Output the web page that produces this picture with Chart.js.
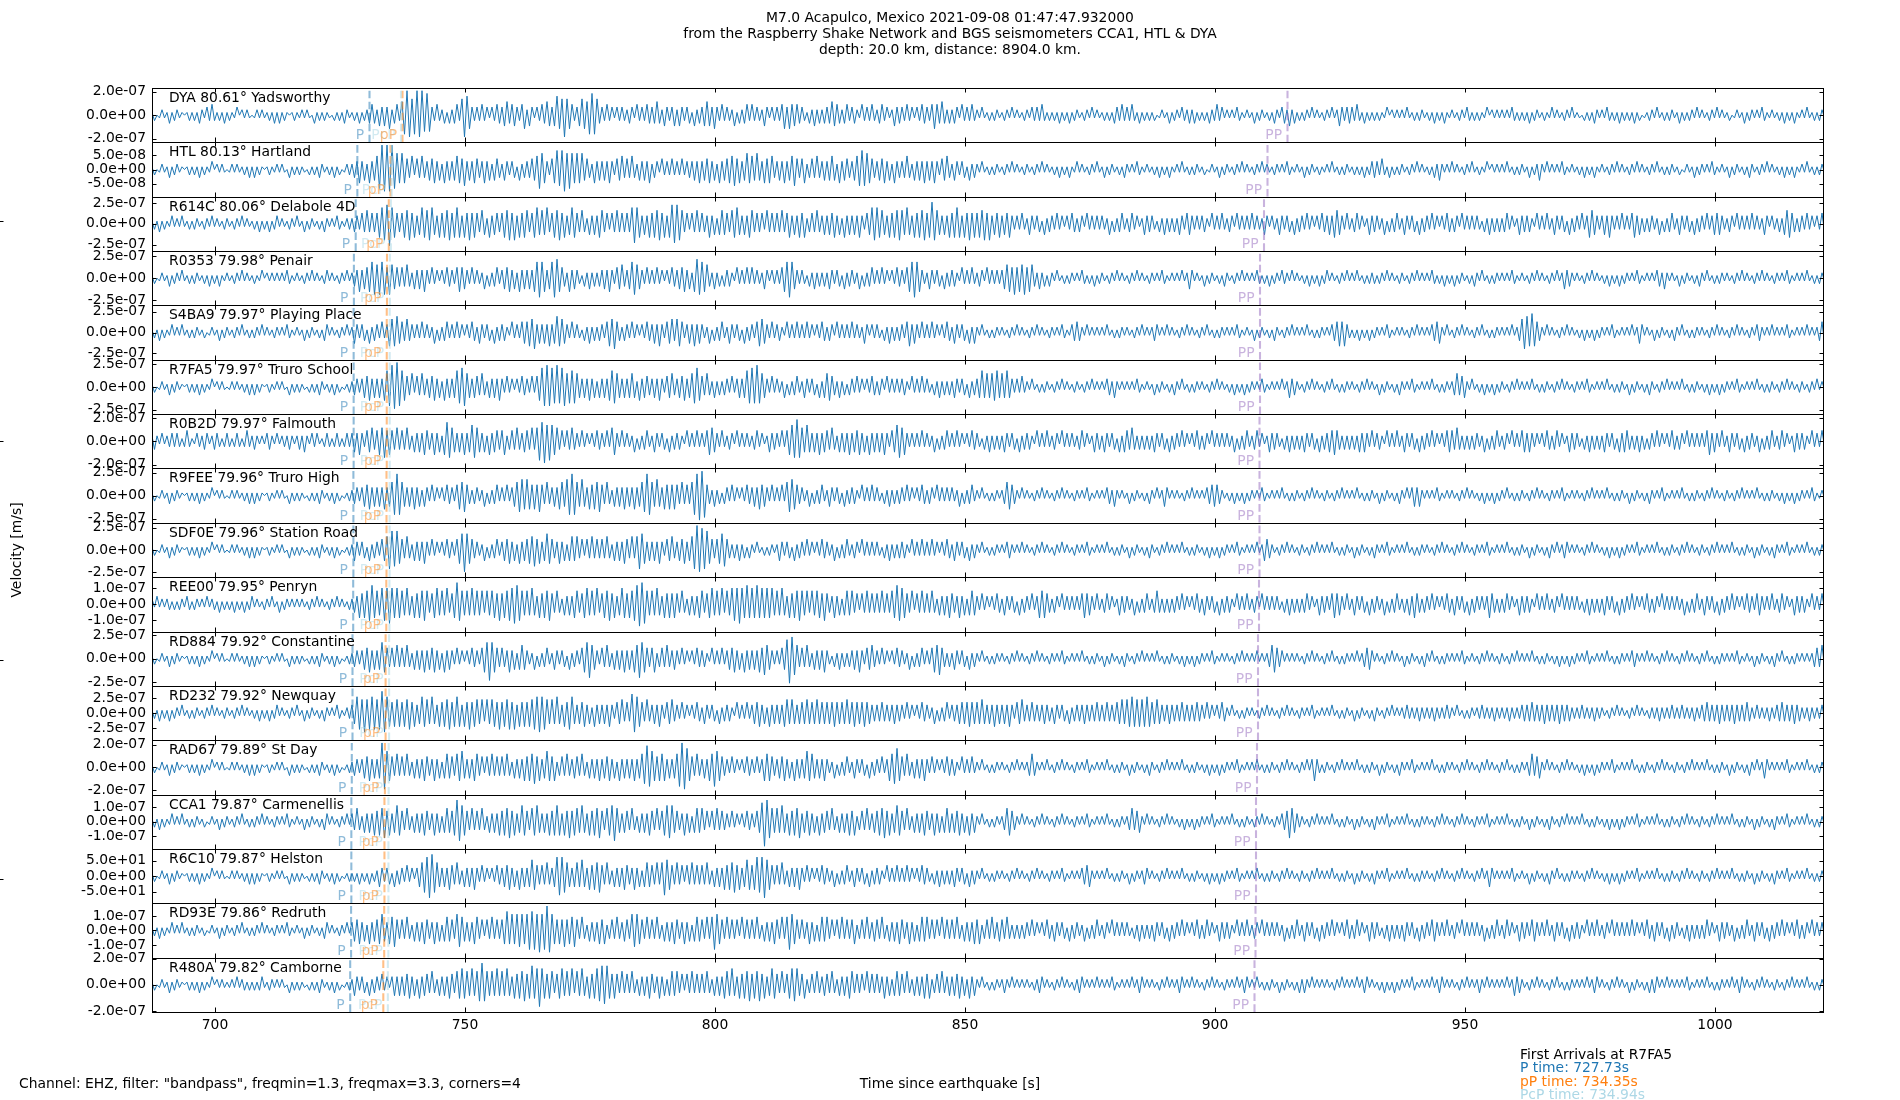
<!DOCTYPE html>
<html>
<head>
<meta charset="utf-8">
<title>M7.0 Acapulco - Cornwall seismometers</title>
<script src="https://cdn.jsdelivr.net/npm/chart.js@4.4.1/dist/chart.umd.min.js"></script>
<style>
  html, body { margin: 0; padding: 0; background: #fff; }
  #wrap { width: 1900px; height: 1100px; }
</style>
</head>
<body>
<div id="wrap"><canvas id="seis" width="1900" height="1100"></canvas></div>
<script>
// station list, top panel first
const stations = ['DYA', 'HTL', 'R614C', 'R0353', 'S4BA9', 'R7FA5', 'R0B2D', 'R9FEE', 'SDF0E',
                  'REE00', 'RD884', 'RD232', 'RAD67', 'CCA1', 'R6C10', 'RD93E', 'R480A'];
const places = ['Yadsworthy', 'Hartland', 'Delabole 4D', 'Penair', 'Playing Place', 'Truro School',
                'Falmouth', 'Truro High', 'Station Road', 'Penryn', 'Constantine', 'Newquay', 'St Day',
                'Carmenellis', 'Helston', 'Redruth', 'Camborne'];
const distances = [80.61, 80.13, 80.06, 79.98, 79.97, 79.97, 79.97, 79.96, 79.96,
                   79.95, 79.92, 79.92, 79.89, 79.87, 79.87, 79.86, 79.82];

// y axis: labelled tick (+/-) and panel half range
const tickAmp = [2.0e-7, 5.0e-8, 2.5e-7, 2.5e-7, 2.5e-7, 2.5e-7, 2.0e-7, 2.5e-7, 2.5e-7,
                 1.0e-7, 2.5e-7, 2.5e-7, 2.0e-7, 1.0e-7, 50, 1.0e-7, 2.0e-7];
const axisMax = [2.33e-7, 9.6e-8, 3.24e-7, 3.11e-7, 3.25e-7, 3.0e-7, 2.33e-7, 2.97e-7, 3.07e-7,
                 1.7e-7, 2.9e-7, 4.5e-7, 2.38e-7, 1.89e-7, 87.5, 1.87e-7, 2.08e-7];

// predicted arrivals [s]
const timeP   = [730.90, 728.47, 728.14, 727.78, 727.73, 727.73, 727.73, 727.68, 727.68,
                 727.64, 727.50, 727.50, 727.36, 727.27, 727.27, 727.22, 727.04];
const timePcP = [737.20, 735.34, 735.17, 734.97, 734.94, 734.94, 734.94, 734.92, 734.92,
                 734.89, 734.82, 734.82, 734.74, 734.69, 734.69, 734.67, 734.57];
const timepP  = [737.50, 735.09, 734.76, 734.40, 734.35, 734.35, 734.35, 734.30, 734.30,
                 734.26, 734.12, 734.12, 733.98, 733.89, 733.89, 733.84, 733.66];
const timePP  = [914.5, 910.5, 909.8, 909.0, 909.0, 909.0, 908.9, 908.9, 908.9,
                 908.8, 908.6, 908.6, 908.4, 908.2, 908.2, 908.1, 907.9];

const xTicks = [700, 750, 800, 850, 900, 950, 1000];
const xMin = 687.4, xMax = 1021.8;

// traces: one peak every 0.5 s from 687.4 s, each digit = peak size in tenths of the panel range,
// peaks alternate up / down
const sampleStart = 687.4, sampleStep = 0.5;
const traces = [
`1201211312 2110121213 2132421213 1211302121 0121211213 1312101211 2121031212 1102121321 1213122343 2434352342
 5798679896 8632422313 2342687532 3242313243 3453443245 2431324354 3475686542 3465578763 3242313232 2331423243
 3353243234 2432331423 3454353242 3224132342 4232243132 3245354443 3213242323 3354432342 3321423242 2342312433
 3242313243 3245435323 2331423242 2131121221 1221312112 2132324212 1213121312 2112213121 1212133242 3242131212
 1201211312 2132232312 1213224231 2121321121 1312211213 2133242312 1221312112 2131243233 3242131212 1211302121
 2131121221 1213121311 2112213212 1211302121 2121321212 1312211211 3121122131 1102121321 2132121312 1213120112
 2131121221 1312122131 2112213121 1201211312 2121321121 1213121311 2131121221`,
`1201211312 2110121213 1211302121 0121211213 1312101211 2121031212 1102121321 1213120122 2335342534 5798989765
 6543524353 3445342534 3455463435 4335342443 2432331423 3344576532 4576786765 6564432534 3435324453 4353243435
 2331423242 3242333435 3445342534 4556453465 5464354553 3435345643 4523435334 3454253443 3456766543 3445342533
 3353243435 3435324453 2432331423 2131121221 1221312112 2112213121 1213121311 3121122131 1312211213 2121321121
 1213121311 2131121221 1201211312 2112213121 1221312112 2121321121 1312211211 2131121221 1212131233 3242131212
 2112213121 1213242121 3121122131 1211302121 2131121221 1312242131 2121321121 1213121311 2112213121 1221312112
 2131121221 1201211312 2121321121 1312211213 2112213121 1213121311 2131121221`,
`1213121131 2131121221 1221312112 2112213121 1213121312 3121122131 1312211213 2121321122 2332435343 4566786543
 4556453465 5664354556 4565354645 4354253443 4556463545 5345645463 4556453465 4353243435 5342435343 4367653435
 4556453577 7653424353 4335342454 4355643435 5343425343 4353453435 4523435334 3445342534 3435324466 6554354556
 5464354556 4586543435 4565354645 4556463445 3445323242 2432331423 3242313243 2331423232 3224132342 2342312433
 3213242323 2432443232 3321423242 2331423232 4232243132 2432331423 3242313243 3435543242 2342312433 3224132342
 2432331423 3242313243 2331423232 3213242323 2342312433 3321423242 2432331423 3242355432 3435323242 3245342323
 3224132342 2432331423 3242344432 2331423232 4232243132 2324554323 3242313243`,
`1201211312 2131121221 1213121311 2112213121 1211302121 2121321121 1221312112 3121122131 2335344566 5666465443
 4353243435 3242313243 3245443242 3224132342 3445342534 3435676534 6775432534 3213242323 3435324453 3466543242
 3242313243 3445342576 6553242313 3321423242 4232243132 3245676432 3213242323 2432331423 3224132342 3242313243
 3245676532 2432331423 3321423242 2331423232 3455464556 4553242313 2131121221 2132121312 2112213121 1221312112
 2121321121 2131243121 1312211213 2112213121 2132121312 2132213121 1213121312 3121122131 2131121222 1221312112
 2112213121 2132121312 1312211213 2131121221 2121321121 1221312112 2131243321 2112213121 1213121312 2121321121
 2133242121 1312211213 2131121221 2112213121 1221312112 2121321121 2131121221`,
`1213121131 2131121221 1201211312 2112213112 1221312112 2121321121 1312211213 3121122131 2432331423 3242355564
 4353323242 3224132342 3242313243 2432331423 3321423244 4556343435 3465543242 3213242323 3245564323 3242313243
 3435324453 5542343534 3224132342 2432331423 3245543242 3321423242 3242313243 2331423232 4232243132 3213242323
 3245343242 3242313243 2432331424 2131121221 2112213121 1221312112 2121321133 4321312121 2131121221 2112213121
 2331213121 1221312112 2131121221 2121321121 1312211213 2112213121 2131121221 2133454532 1213121312 2121321121
 2112213121 2133442131 1221312112 2131121221 2121312356 6575432131 2112213121 1213121312 2121321121 2131243121
 1312211213 2131121221 2112213121 1221312112 2133212131 2121321121 2131212344`,
`1201211312 2110121213 1211302121 0121211213 1312101211 2121031212 1102121321 1213120112 2332344534 3435678897
 6543524353 3445342534 3466775434 4353243435 3242313243 3242457787 7686775666 5434353424 3435665434 3454253443
 3435324453 3445345675 4353242323 3242343466 7686543242 3224132342 2432331424 5543242313 3242313243 2331423232
 3321423242 3213242323 2432331423 3464545564 5464323242 2131121221 1221312112 2112213121 2133242121 2121321121
 1312211213 2131121221 2112213121 1213121312 2121321121 2131243321 1221312112 2131121221 2112213121 1312211213
 2121321121 2131121221 2353442131 1213121312 2112213121 2131121221 1221312112 2121321121 2131121221 1312211213
 2112213121 2131121221 1213121312 2121321121 2131121221 1221312112 2112213121`,
`2321312232 3212421132 2331233212 3212321242 2321213321 3122232123 2421323112 3212321232 3435324453 4556454353
 4353243435 4335342576 5434353466 5434253443 4523435334 4353577867 6553424353 3242313243 3242553242 3224132342
 2432331423 3321423242 3245543242 2331423232 2342312433 3242456686 5464343534 4353243435 3445342534 3435324466
 5532323242 3224132342 3242313243 3213242323 2432331423 3321423242 2331423232 2342312433 2432331424 4353232323
 2432331423 3242313243 2331423232 3224132342 2342312433 3213242323 2432331423 3445432323 2324343242 3321423242
 2432331423 3242313244 4353232323 3224132342 2331423244 3432313243 2342312433 3213242323 2432331434 4323242313
 3242313243 2331423232 3245343242 2432331423 3224132342 2342312433 3321423242`,
`1201211312 2110121213 1211302121 0121211213 1312101211 2121031212 1102121321 1213120112 2332344534 3435345787
 5434353424 3242313243 3245564323 3224132342 3242345665 6545464353 3435546787 5464354556 4353243435 3435345687
 5464354545 4353435789 9843242313 3242313243 3435443242 3242566543 3224132342 2432331423 3321423242 3213242323
 3242313243 2331423232 3224132342 2131121221 2355432131 2112213121 1221312112 2121321121 2133242121 1312211213
 2131243121 2112213121 2133444321 1213121312 2121321121 2131121221 1221312112 2112213121 2131121221 1312211213
 2131343421 2121321121 2112213121 1213121312 2131121221 1221312112 2121321121 2112213121 2131121221 1312211213
 2121321121 2131121221 1221312112 2112213121 2131121221 1213121312 2121321121`,
`1201211312 2110121213 1211302121 0121211213 1312101211 2121031212 1102121321 1213120112 2432331423 3244577675
 4353243435 3242313243 3245686543 3224132342 3445342534 4556453465 4335342454 5342435343 4353243435 4353576534
 3435324453 3445345798 8775434566 4323242313 2131121221 2432331423 3242313243 3224132342 2331423232 3213242323
 3321423242 3242313243 2432331423 2131121221 2133212131 2112213121 1221312112 2121321121 2131121221 1312211213
 2112213121 2131121221 1213121312 2121321121 2131244321 1221312112 2112213121 2131121221 1312211213 2121321121
 2131121221 2112213121 1221312112 2121321121 2131121221 1312211213 2131233121 2112213121 1213121312 2121321121
 2131121221 1221312112 2112213121 2131121221 1312211213 2121321121 2131121221`,
`2131212212 1221321221 2131221312 1213121312 3121122131 1312212121 2112213121 1221312112 2335455675 5466676565
 5464354556 5345645463 4586545464 5453545546 4556677654 5464354556 4353243435 5345645463 4556453465 4556788754
 5464354545 4353243435 5345645463 5466676575 6575656564 5464354556 5453545546 4335342454 5342435343 4353435576
 6543524353 4353243435 4335342454 3242313243 2432331423 3242355543 2331423232 3245443242 2342312433 3224132342
 2353232323 3242313243 2432331423 3321423242 2331423232 3213242323 2342312433 3245443242 2432331423 3224132342
 2324354323 3242313243 2432331423 3232354323 2342312433 3321423242 2331423232 3213242323 2432331423 3242313243
 2331423232 3224132342 2432331423 3242313243 3244323242 2342312433 3321423242`,
`1201211312 2110121213 1211302121 0121211213 1312101211 2121031212 1102121321 1213120112 2332344534 3465434353
 4353243435 3445342534 3242313243 3245686543 4335342454 3224132342 2432331423 3245675432 4353243435 3435576543
 4523435334 3242313243 3321423242 3445342534 3435465432 3244798653 4353243435 3213242323 3435324453 3242313243
 3224132342 3245564323 2432331423 2131121221 2112213121 1221312112 2121321121 2131121221 1312211213 2112213121
 2131121221 1213121312 2121321121 2112213121 2131212355 4331212121 1221312112 2131121221 2131234431 2112213121
 1312211213 2131121221 2121321121 1221312112 2112213121 2131121221 1213121312 2121321121 2131121221 2133212131
 2112213121 1221312112 2131121221 2121321121 1312211213 2131121221 2121234353`,
`1213121312 2131121221 1221312112 2112213121 1213121312 3121122131 1312211213 2121321122 3466575666 5687654555
 4556453465 5464354556 4565354645 5453545546 4556463545 4556676654 5464354664 3445342534 3435324453 4377654353
 3435324453 3242313243 2432331423 3321423242 3445342534 3435545434 4454445444 4445444454 4544454433 3343333433
 3242313243 3224132342 3334444544 4454343534 3435324453 3343333433 2432331423 3334333343 3343334454 5565555565
 4454333433 3343333343 3242313243 2131121221 2112213121 1221312112 2121321121 2131121221 1312211213 2112213121
 2232222322 2223222232 2131121221 2232222322 2223222233 3343333433 3334333322 2232222322 2112213121 1221312112
 2223222232 2232222322 3343333433 3334333343 2232222322 3343333433 2223222232`,
`1201211312 2110121213 1211302121 0121211213 1312101211 2121031212 1102121321 1213120112 2332344534 3498654353
 4353243435 4335342454 4355643435 5342435343 4353243435 4556453465 4523435334 4353243435 3445342534 3435345687
 6545553434 5798754353 3435576543 3242313243 3242355543 3445342534 3465543435 3224132342 2432331423 3242355675
 4353243435 3242313243 3321423242 2131121221 2112213121 2353212131 1221312112 2121321121 2131121221 1312211213
 2112213121 2131121221 1213121312 2121321121 2131121221 1221312112 2131353212 2112213121 2131121221 1312211213
 2121321121 2131121221 2112213121 1221312112 2131121221 2353442131 2112213121 1213121312 2121321121 2131121221
 1221312112 2112213121 2131121221 1312211213 2131243121 2121321121 2131121221`,
`1213121131 2131121221 1201211312 2112213112 1221312112 2121321121 1312211213 3121122131 3353243435 4556453465
 4353243435 4335342454 4587654353 4353243435 4556453465 4355643435 4565354645 5464354556 4355675434 4353243435
 4353456664 4335342454 5342435343 3242313243 3244798654 5464354556 3445342534 4353243435 4523435334 4556453465
 4353243435 4335342454 3445342534 2131121221 2355432131 2112213121 1221312112 2121321121 2131121221 2353442131
 2112213121 1213121312 2121321121 2131121221 1221312112 2133465432 2112213121 2131121221 1312211213 2121321121
 2131121221 2112213121 1221312112 2121321121 2131121221 1312211213 2112213121 2131121221 1213121312 2121321121
 2131121221 1221312112 2112213121 2131121221 1312211213 2121321121 2131121221`,
`1201211312 2110121213 1211302121 0121211213 1312101211 2121031212 1102121321 1213120112 1213121312 2432331423
 3242313456 7886543435 4353243435 3242313243 3445342534 3465434353 3477765434 5464354556 4353243435 4335342454
 4353576543 5342435343 4353243435 4556453465 4576786543 4353243435 3242313243 3224132342 2432331423 3321423242
 3242313243 3213242323 2432331423 2131121221 2112213121 1221312112 2121321121 2133442121 2131121221 1312212331
 2112213121 2131121221 1213121312 2121321121 2131121221 1221312112 2112213121 2131121221 1312211213 2121321121
 2131121221 2112213121 1221312112 2131243121 2121321121 1312211213 2131121221 2112213121 1213121312 2121321121
 2131121221 1221312112 2112213121 2131121221 1312211213 2121321121 2131121221`,
`1213121131 2131121221 1201211312 2112213112 1221312112 2121321121 1312211213 3121122131 3445342534 4564355643
 4353243435 4335342454 4366543435 5342435343 4575656665 6777686798 6545464556 4353243435 4523435334 4366654353
 4353243435 4335342454 4353576543 5343425343 4353243435 4353576543 4335342454 5342435343 4523435334 4353243435
 4335342454 5343425343 4353243435 4523435334 4353232323 3242313243 2432331423 3224132342 2331423232 3213242323
 2432331423 3242313243 2342312433 3321423242 2331423232 3224132342 2432331423 3242313243 2342312433 3213242323
 2432331423 3244323242 2331423232 3224132342 2342312433 3244323242 2432331423 3321423242 2331423232 3242313243
 2432331423 3213242323 2342312433 3224132342 2432331423 3242313243 2331423232`,
`1201211312 2110121213 1211302121 1121312212 1212311221 2121031212 1102121321 1213120112 2432331423 3242313434
 3445342534 4353243435 4355655464 5686545464 5464354556 4575686545 5345645463 5464354566 7775454353 4353243435
 4335342454 5342435343 4353243435 5464354556 4556453465 4353456664 4523435334 4353243435 5343425343 4335342454
 4353243435 4523435334 3445342534 2131121221 2321312121 2112233121 1221312112 2331212131 2121321121 2131233121
 2112213121 2331213121 1221312112 2121312331 2131121221 1312211213 2321312121 2112213121 2131233121 1213121312
 2121321121 2131233121 2112213121 2321312121 2131243321 1221312112 2131121221 2121312331 2112213121 1312211213
 2331213121 2121321121 2131121221 2131233121 1221312112 2112213121 2131121221`
];

const titleLines = ['M7.0 Acapulco, Mexico 2021-09-08 01:47:47.932000',
                    'from the Raspberry Shake Network and BGS seismometers CCA1, HTL & DYA',
                    'depth: 20.0 km, distance: 8904.0 km.'];
const channelNote = 'Channel: EHZ, filter: "bandpass", freqmin=1.3, freqmax=3.3, corners=4';
const xLabel = 'Time since earthquake [s]';
const yLabel = 'Velocity [m/s]';
const refStation = 'R7FA5';

const FONT = '"DejaVu Sans", "Liberation Sans", sans-serif';
const TXT = '13.89px ' + FONT;

const phases = [
  { name: 'P',   times: timeP,   color: 'rgba(31,119,180,0.5)' },
  { name: 'PcP', times: timePcP, color: 'rgba(173,216,230,0.55)' },
  { name: 'pP',  times: timepP,  color: 'rgba(255,127,14,0.5)' },
  { name: 'PP',  times: timePP,  color: 'rgba(148,103,189,0.5)' }
];

function sci(v) {
  const parts = Number(v).toExponential(1).split('e');
  const n = Number(parts[1]);
  return parts[0] + 'e' + (n < 0 ? '-' : '+') + String(Math.abs(n)).padStart(2, '0');
}

const datasets = [];
const scales = {
  x: {
    type: 'linear', position: 'bottom', min: xMin, max: xMax,
    afterBuildTicks: s => { s.ticks = xTicks.map(v => ({ value: v })); },
    afterFit: s => { s.height = 88; },
    grid: { display: false, drawTicks: false },
    border: { display: false },
    ticks: { autoSkip: false, maxRotation: 0, padding: 5, color: '#000',
             font: { family: FONT, size: 13.89 }, callback: v => String(v) }
  }
};

stations.forEach((code, i) => {
  const id = 'y' + i;
  const amps = traces[i].replace(/\s+/g, '');
  const pts = [];
  for (let k = 0; k < amps.length; k++) {
    const sign = k % 2 === 0 ? 1 : -1;
    pts.push({ x: sampleStart + k * sampleStep, y: sign * Number(amps[k]) / 10 * axisMax[i] });
  }
  datasets.push({ data: pts, yAxisID: id, borderColor: '#1f77b4', borderWidth: 1,
                  pointRadius: 0, order: 2 });
  phases.forEach(ph => {
    datasets.push({
      data: [{ x: ph.times[i], y: -axisMax[i] }, { x: ph.times[i], y: axisMax[i] }],
      yAxisID: id, borderColor: ph.color, borderWidth: 2.08, borderDash: [7.7, 3.3],
      pointRadius: 0, order: 1
    });
  });
  scales[id] = {
    type: 'linear', position: 'left', stack: 'panels', stackWeight: 1,
    weight: stations.length - i,
    min: -axisMax[i], max: axisMax[i],
    afterBuildTicks: s => { s.ticks = [{ value: -tickAmp[i] }, { value: 0 }, { value: tickAmp[i] }]; },
    afterFit: s => { s.width = 152; },
    grid: { display: false, drawTicks: false },
    border: { display: false },
    ticks: { autoSkip: false, padding: 6, color: '#000',
             font: { family: FONT, size: 13.89 }, callback: v => sci(v) }
  };
});

const decor = {
  id: 'decor',
  afterDatasetsDraw(chart) {
    const ctx = chart.ctx;
    const area = chart.chartArea;
    const xs = chart.scales.x;
    ctx.save();
    ctx.font = TXT;
    stations.forEach((code, i) => {
      const ys = chart.scales['y' + i];
      const top = Math.round(ys.top), bottom = Math.round(ys.bottom);
      // phase names, left of their lines
      ctx.textAlign = 'right';
      ctx.textBaseline = 'alphabetic';
      phases.forEach(ph => {
        ctx.fillStyle = ph.color;
        ctx.fillText(ph.name, xs.getPixelForValue(ph.times[i]) - 5.5, bottom - 3);
      });
      // station name
      ctx.fillStyle = '#000';
      ctx.textAlign = 'left';
      ctx.textBaseline = 'top';
      ctx.fillText(code + ' ' + distances[i].toFixed(2) + '\u00b0 ' + places[i], area.left + 17, top + 3);
      // frame and inward ticks
      ctx.strokeStyle = '#000';
      ctx.lineWidth = 1;
      ctx.beginPath();
      xTicks.forEach(v => {
        const px = Math.round(xs.getPixelForValue(v)) + 0.5;
        ctx.moveTo(px, top); ctx.lineTo(px, top + 4.5);
        ctx.moveTo(px, bottom); ctx.lineTo(px, bottom - 4.5);
      });
      [-tickAmp[i], 0, tickAmp[i]].forEach(v => {
        const py = Math.round(ys.getPixelForValue(v)) + 0.5;
        ctx.moveTo(area.left, py); ctx.lineTo(area.left + 4.5, py);
        ctx.moveTo(area.right, py); ctx.lineTo(area.right - 4.5, py);
      });
      ctx.stroke();
      ctx.strokeRect(Math.round(area.left) + 0.5, top + 0.5, Math.round(area.right - area.left) - 1, bottom - top);
    });
    ctx.restore();
  },
  afterDraw(chart) {
    const ctx = chart.ctx;
    ctx.save();
    ctx.font = TXT;
    ctx.fillStyle = '#000';
    ctx.textBaseline = 'middle';
    ctx.textAlign = 'center';
    titleLines.forEach((s, j) => ctx.fillText(s, 950, 18.5 + j * 16));
    ctx.fillText(xLabel, 950, 1084);
    ctx.textAlign = 'left';
    ctx.fillText(channelNote, 19, 1084);
    const r = stations.indexOf(refStation);
    const block = [
      ['First Arrivals at ' + refStation, '#000000'],
      ['P time: ' + timeP[r].toFixed(2) + 's', '#1f77b4'],
      ['pP time: ' + timepP[r].toFixed(2) + 's', '#ff7f0e'],
      ['PcP time: ' + timePcP[r].toFixed(2) + 's', '#add8e6']
    ];
    block.forEach((b, j) => { ctx.fillStyle = b[1]; ctx.fillText(b[0], 1520, 1055 + j * 13.6); });
    ctx.save();
    ctx.translate(17, 550);
    ctx.rotate(-Math.PI / 2);
    ctx.textAlign = 'center';
    ctx.fillStyle = '#000';
    ctx.fillText(yLabel, 0, 0);
    ctx.restore();
    ctx.strokeStyle = '#000';
    ctx.lineWidth = 1;
    ctx.beginPath();
    [221, 441, 660, 879].forEach(y => { ctx.moveTo(0, y + 0.5); ctx.lineTo(3.5, y + 0.5); });
    ctx.stroke();
    ctx.restore();
  }
};

new Chart(document.getElementById('seis'), {
  type: 'line',
  data: { datasets },
  options: {
    responsive: false,
    animation: false,
    devicePixelRatio: 1,
    events: [],
    layout: { padding: { left: 0, right: 76, top: 88, bottom: 0 } },
    plugins: { legend: { display: false }, tooltip: { enabled: false }, title: { display: false } },
    elements: { line: { tension: 0 }, point: { radius: 0 } },
    scales
  },
  plugins: [decor]
});
</script>
</body>
</html>
